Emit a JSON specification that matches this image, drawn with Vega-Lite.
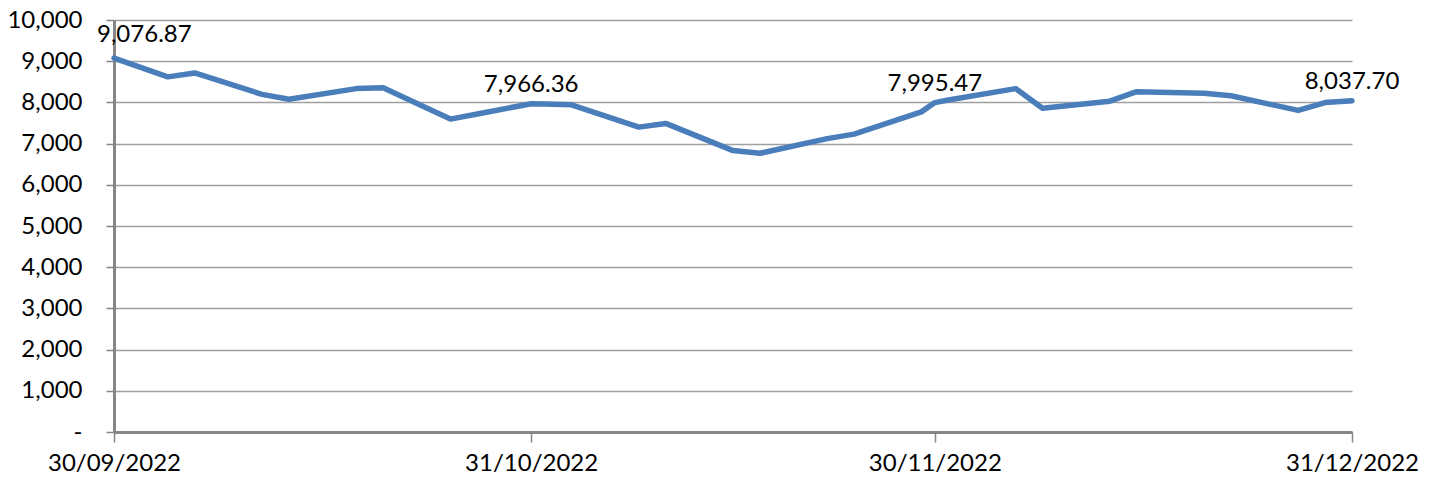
{
  "$schema": "https://vega.github.io/schema/vega-lite/v6.json",
  "autosize": "none",
  "width": 1238,
  "height": 412,
  "padding": {"left": 114, "top": 20, "right": 78, "bottom": 46},
  "background": "white",
  "config": {
    "view": {"stroke": null},
    "font": "Lato",
    "axis": {"labelFont": "Lato", "labelColor": "#000000"}
  },
  "data": {
    "values": [
      {"date": "2022-09-30", "value": 9076.87, "shown": 1},
      {"date": "2022-10-04", "value": 8620, "shown": 0},
      {"date": "2022-10-06", "value": 8715, "shown": 0},
      {"date": "2022-10-11", "value": 8195, "shown": 0},
      {"date": "2022-10-13", "value": 8075, "shown": 0},
      {"date": "2022-10-18", "value": 8335, "shown": 0},
      {"date": "2022-10-20", "value": 8355, "shown": 0},
      {"date": "2022-10-25", "value": 7595, "shown": 0},
      {"date": "2022-10-27", "value": 7720, "shown": 0},
      {"date": "2022-10-31", "value": 7966.36, "shown": 1},
      {"date": "2022-11-01", "value": 7960, "shown": 0},
      {"date": "2022-11-03", "value": 7940, "shown": 0},
      {"date": "2022-11-08", "value": 7400, "shown": 0},
      {"date": "2022-11-10", "value": 7490, "shown": 0},
      {"date": "2022-11-15", "value": 6830, "shown": 0},
      {"date": "2022-11-17", "value": 6765, "shown": 0},
      {"date": "2022-11-22", "value": 7120, "shown": 0},
      {"date": "2022-11-24", "value": 7230, "shown": 0},
      {"date": "2022-11-29", "value": 7770, "shown": 0},
      {"date": "2022-11-30", "value": 7995.47, "shown": 1},
      {"date": "2022-12-01", "value": 8060, "shown": 0},
      {"date": "2022-12-06", "value": 8335, "shown": 0},
      {"date": "2022-12-08", "value": 7860, "shown": 0},
      {"date": "2022-12-13", "value": 8030, "shown": 0},
      {"date": "2022-12-15", "value": 8260, "shown": 0},
      {"date": "2022-12-20", "value": 8220, "shown": 0},
      {"date": "2022-12-22", "value": 8160, "shown": 0},
      {"date": "2022-12-27", "value": 7805, "shown": 0},
      {"date": "2022-12-29", "value": 7995, "shown": 0},
      {"date": "2022-12-31", "value": 8037.70, "shown": 2}
    ]
  },
  "encoding": {
    "x": {
      "field": "date",
      "type": "temporal",
      "scale": {"type": "utc", "domain": [1664496000000, 1672444800000], "nice": false},
      "axis": {
        "title": null,
        "values": [1664496000000, 1667174400000, 1669766400000, 1672444800000],
        "labelExpr": "utcFormat(datum.value, '%d/%m/%Y')",
        "labelFontSize": 24,
        "labelPadding": 9,
        "labelFlush": false,
        "labelOverlap": false,
        "grid": false,
        "domainColor": "#868686",
        "domainWidth": 3,
        "tickColor": "#868686",
        "tickWidth": 1.5,
        "tickSize": 10
      }
    },
    "y": {
      "field": "value",
      "type": "quantitative",
      "scale": {"domain": [0, 10000], "nice": false},
      "axis": {
        "title": null,
        "values": [0, 1000, 2000, 3000, 4000, 5000, 6000, 7000, 8000, 9000, 10000],
        "labelExpr": "datum.value == 0 ? '-' : format(datum.value, ',')",
        "labelFontSize": 24,
        "labelPadding": 24,
        "grid": true,
        "gridColor": "#a0a0a0",
        "gridWidth": 1.5,
        "domainColor": "#868686",
        "domainWidth": 3,
        "tickColor": "#868686",
        "tickWidth": 1.5,
        "tickSize": 8
      }
    }
  },
  "layer": [
    {
      "mark": {"type": "line", "color": "#4a7ebb", "strokeWidth": 5.5, "strokeJoin": "round", "strokeCap": "round"}
    },
    {
      "transform": [{"filter": "datum.shown == 1 && datum.value > 9000"}],
      "mark": {"type": "text", "align": "left", "baseline": "alphabetic", "dx": -17, "dy": -16, "fontSize": 24, "font": "Lato", "color": "#000000"},
      "encoding": {"text": {"field": "value", "type": "quantitative", "format": ",.2f"}}
    },
    {
      "transform": [{"filter": "datum.shown >= 1 && datum.value < 9000"}],
      "mark": {"type": "text", "align": "center", "baseline": "alphabetic", "dy": -12, "fontSize": 24, "font": "Lato", "color": "#000000"},
      "encoding": {"text": {"field": "value", "type": "quantitative", "format": ",.2f"}}
    }
  ]
}
